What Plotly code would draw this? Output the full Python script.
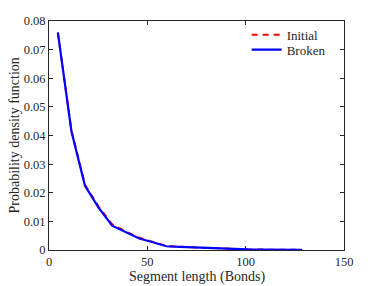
import plotly.graph_objects as go

seg_len = [4.5, 11.4, 18.3, 25.2, 32.1, 39.0, 45.9, 52.8, 59.7, 66.6, 73.5, 80.4, 87.3, 94.2, 101.1, 108.0, 114.9, 121.8, 128.7]
initial = [0.0758, 0.0418, 0.0228, 0.0152, 0.0090, 0.0065, 0.0043, 0.0028, 0.0014, 0.0011, 0.0009, 0.0006, 0.0005, 0.0003, 0.0002, 0.00015, 0.0001, 0.00005, 0.00003]
broken = [0.0760, 0.0415, 0.0224, 0.0148, 0.0085, 0.0062, 0.0040, 0.0027, 0.0013, 0.0011, 0.0009, 0.0006, 0.0004, 0.0003, 0.0002, 0.00015, 0.0001, 0.00005, 0.00003]

x_ticks = [0, 50, 100, 150]
y_ticks = [0, 0.01, 0.02, 0.03, 0.04, 0.05, 0.06, 0.07, 0.08]
y_tick_labels = ["0", "0.01", "0.02", "0.03", "0.04", "0.05", "0.06", "0.07", "0.08"]
x_title = "Segment length (Bonds)"
y_title = "Probability density function"

FONT = "Liberation Serif"
AX = "#262626"

fig = go.Figure()
fig.add_trace(go.Scatter(x=seg_len, y=initial, mode="lines", name="Initial", legend="legend",
                         line=dict(color="#ff0000", width=2, dash="6px,5px")))
fig.add_trace(go.Scatter(x=seg_len, y=broken, mode="lines", name="Broken", legend="legend2",
                         line=dict(color="#0000ff", width=2.2)))

axis_common = dict(showline=True, linecolor=AX, linewidth=1, mirror="ticks",
                   ticks="inside", ticklen=4, tickcolor=AX, showgrid=False,
                   zeroline=False, automargin=False,
                   tickfont=dict(family=FONT, size=12.5, color=AX))

legend_common = dict(x=0.67, xanchor="left", yanchor="top", bgcolor="rgba(0,0,0,0)",
                     font=dict(family=FONT, size=13, color=AX), itemwidth=30, tracegroupgap=0)

fig.update_layout(
    width=373, height=278,
    margin=dict(l=41, r=37, t=13, b=36),
    paper_bgcolor="white", plot_bgcolor="white",
    font=dict(family=FONT, size=13, color=AX),
    xaxis=dict(range=[0, 150], tickvals=x_ticks, ticktext=[str(v) for v in x_ticks], **axis_common),
    yaxis=dict(range=[0, 0.08], tickvals=y_ticks, ticktext=y_tick_labels, **axis_common),
    legend=dict(y=1.005, **legend_common),
    legend2=dict(y=0.94, **legend_common),
    showlegend=True,
    annotations=[
        dict(text=x_title, xref="paper", yref="paper", x=0.5, y=0, yshift=-27,
             xanchor="center", yanchor="middle", showarrow=False,
             font=dict(family=FONT, size=14, color=AX)),
        dict(text=y_title, xref="paper", yref="paper", x=0, y=0.5, xshift=-35,
             xanchor="center", yanchor="middle", textangle=-90, showarrow=False,
             font=dict(family=FONT, size=14, color=AX)),
    ],
)

fig.write_html("out.html")
